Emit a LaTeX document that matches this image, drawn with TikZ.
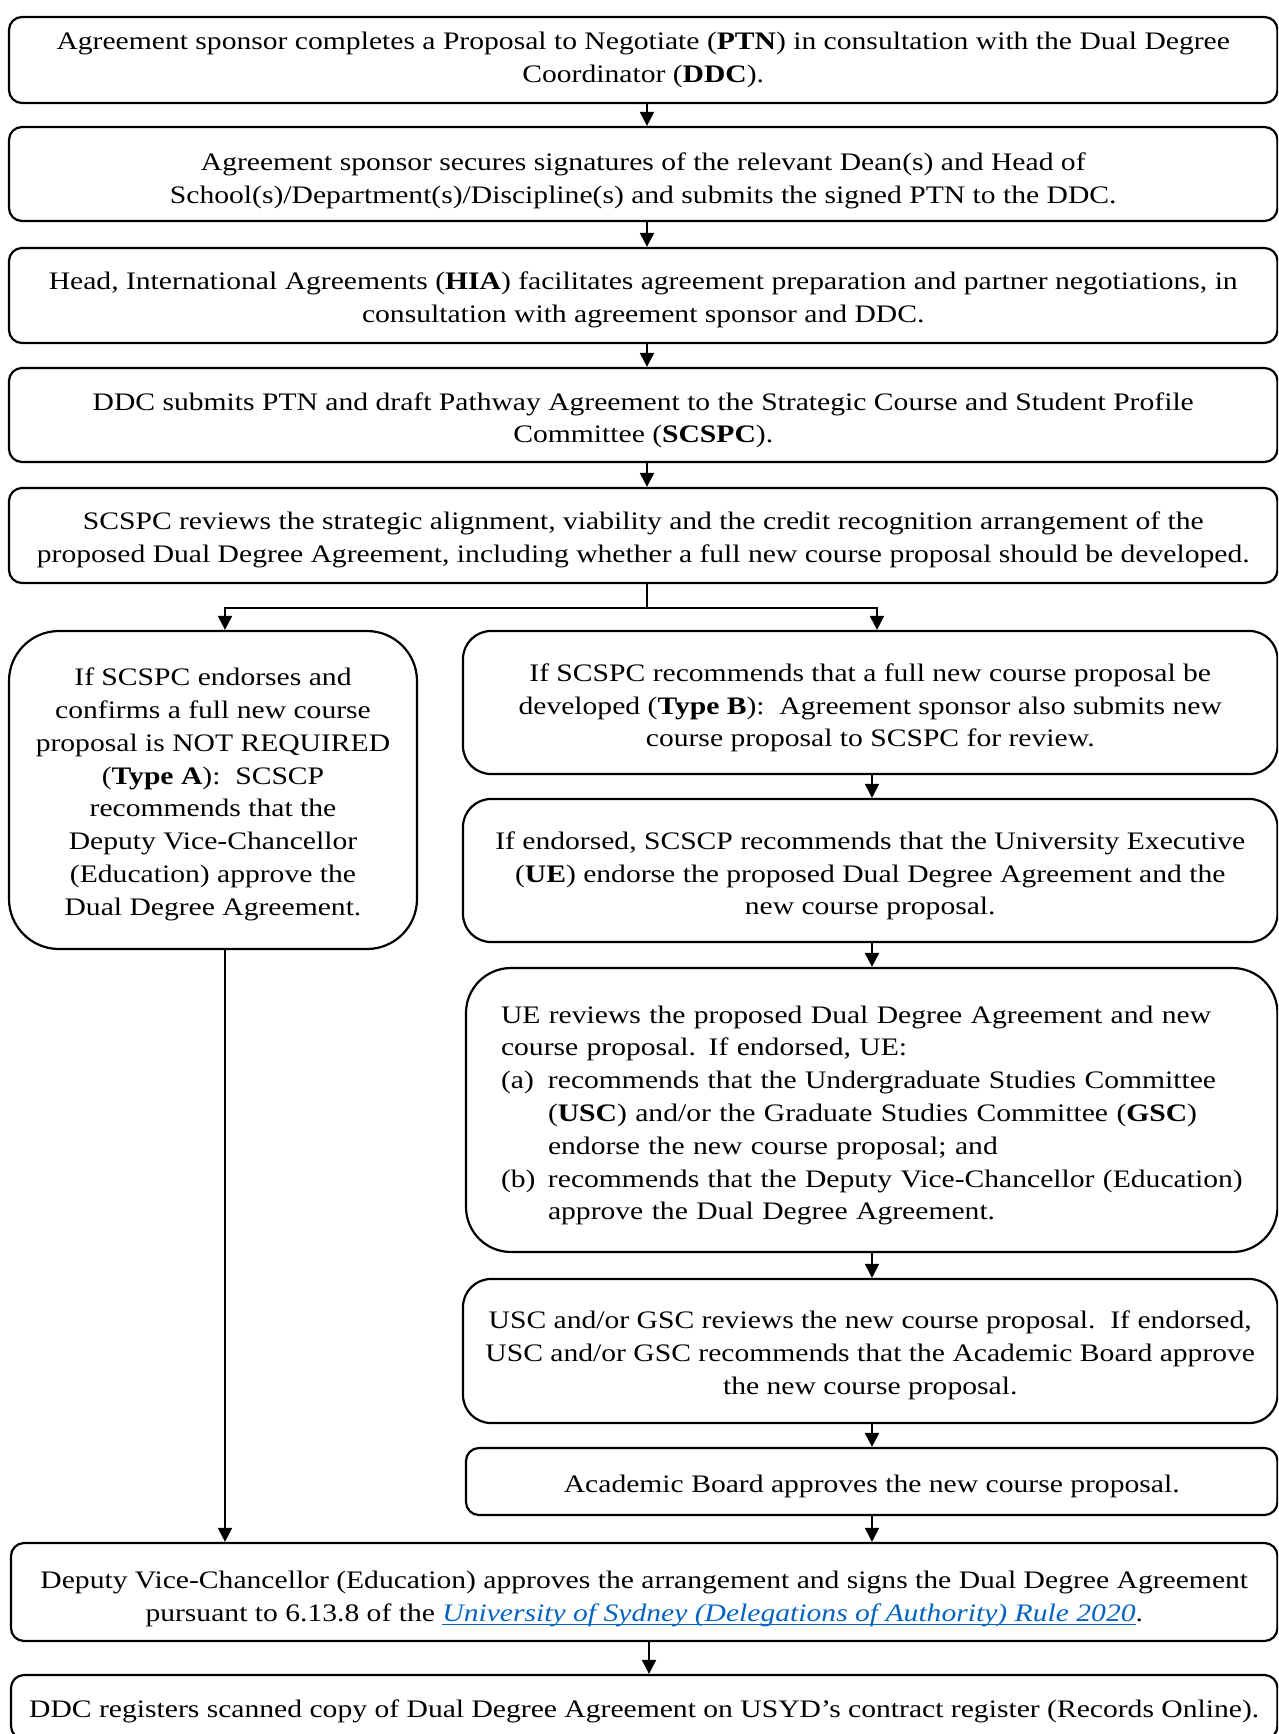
\documentclass[tikz,border=0pt]{standalone}
\usepackage{fontspec}
\setmainfont{Liberation Serif}[FakeStretch=1.175]
\usetikzlibrary{arrows.meta}
\definecolor{linkblue}{RGB}{5,99,193}
% italic blue link text with an underline just below the baseline
\newcommand{\rulelink}[1]{{\color{linkblue}\itshape\setbox0\hbox{#1}\rlap{\rule[-4pt]{\wd0}{1.5pt}}\box0}}
\newcommand{\itemlabel}[1]{\makebox[47pt][l]{#1}}
\newcommand{\itemcont}{\hspace*{47pt}}
% invisible strut at the start of a first line: lowers the text in its box
\newcommand{\lowr}[1]{\rule{0pt}{#1}}

\begin{document}
\begin{tikzpicture}[x=1pt,y=-1pt,
  box/.style={draw, line width=2.2pt, align=center, inner sep=0pt,
    font=\fontsize{25.2}{32.8}\selectfont, rounded corners=13pt},
  arr/.style={line width=2pt, -{Triangle[width=14pt,length=14pt]}}]
\useasboundingbox (0,0) rectangle (1278,1734);
\clip (0,0) rectangle (1278,1734);

% main sequence
\node[box, minimum width=1268.5pt, minimum height=86pt] (b1) at (643.25,60)
  {Agreement sponsor completes a Proposal to Negotiate (\textbf{PTN}) in consultation with the Dual Degree\\
   Coordinator (\textbf{DDC}).};
\node[box, minimum width=1268.5pt, minimum height=94pt] (b2) at (643.25,174)
  {\lowr{31pt}Agreement sponsor secures signatures of the relevant Dean(s) and Head of\\
   School(s)/Department(s)/Discipline(s) and submits the signed PTN to the DDC.};
\node[box, minimum width=1268.5pt, minimum height=95pt] (b3) at (643.25,295.5)
  {\lowr{26.5pt}Head, International Agreements (\textbf{HIA}) facilitates agreement preparation and partner negotiations, in\\
   consultation with agreement sponsor and DDC.};
\node[box, minimum width=1268.5pt, minimum height=94pt] (b4) at (643.25,415)
  {\lowr{28.5pt}DDC submits PTN and draft Pathway Agreement to the Strategic Course and Student Profile\\
   Committee (\textbf{SCSPC}).};
\node[box, minimum width=1268.5pt, minimum height=95pt] (b5) at (643.25,535.5)
  {\lowr{26.5pt}SCSPC reviews the strategic alignment, viability and the credit recognition arrangement of the\\
   proposed Dual Degree Agreement, including whether a full new course proposal should be developed.};

% Type A branch
\node[box, rounded corners=50pt, minimum width=408pt, minimum height=318pt] (la) at (213,790)
  {\lowr{26.5pt}If SCSPC endorses and\\
   confirms a full new course\\
   proposal is NOT REQUIRED\\
   (\textbf{Type A}):\ \ SCSCP\\
   recommends that the\\
   Deputy Vice-Chancellor\\
   (Education) approve the\\
   Dual Degree Agreement.};

% Type B branch
\node[box, rounded corners=28pt, minimum width=814.5pt, minimum height=143pt] (ra1) at (870.25,702.5)
  {\lowr{28.5pt}If SCSPC recommends that a full new course proposal be\\
   developed (\textbf{Type B}):\ \ Agreement sponsor also submits new\\
   course proposal to SCSPC for review.};
\node[box, rounded corners=28pt, minimum width=814.5pt, minimum height=143pt] (ra2) at (870.25,870.5)
  {\lowr{28.5pt}If endorsed, SCSCP recommends that the University Executive\\
   (\textbf{UE}) endorse the proposed Dual Degree Agreement and the\\
   new course proposal.};
\node[box, rounded corners=45pt, minimum width=811.5pt, minimum height=284pt,
      text width=741.5pt, align=left] (ra3) at (871.75,1110)
  {\lowr{28.5pt}\mbox{UE reviews the proposed Dual Degree Agreement and new}\\
   \mbox{course proposal. If endorsed, UE:}\\
   \itemlabel{(a)}\mbox{recommends that the Undergraduate Studies Committee}\\
   \itemcont\mbox{(\textbf{USC}) and/or the Graduate Studies Committee (\textbf{GSC})}\\
   \itemcont\mbox{endorse the new course proposal; and}\\
   \itemlabel{(b)}\mbox{recommends that the Deputy Vice-Chancellor (Education)}\\
   \itemcont\mbox{approve the Dual Degree Agreement.}};
\node[box, rounded corners=28pt, minimum width=814.5pt, minimum height=144pt] (ra4) at (870.25,1351)
  {\lowr{26.5pt}USC and/or GSC reviews the new course proposal.\ \ If endorsed,\\
   USC and/or GSC recommends that the Academic Board approve\\
   the new course proposal.};
\node[box, minimum width=811.5pt, minimum height=67pt] (ra5) at (871.75,1481.5)
  {\lowr{26.5pt}Academic Board approves the new course proposal.};

% approval and registration
\node[box, minimum width=1266.5pt, minimum height=98pt] (d) at (644.25,1592)
  {\lowr{31pt}Deputy Vice-Chancellor (Education) approves the arrangement and signs the Dual Degree Agreement\\
   pursuant to 6.13.8 of the \rulelink{University of Sydney (Delegations of Authority) Rule 2020}.};
\node[box, minimum width=1266.5pt, minimum height=64pt] (e) at (644.25,1707)
  {\lowr{26.5pt}DDC registers scanned copy of Dual Degree Agreement on USYD’s contract register (Records Online).};

% connectors
\draw[arr] ([xshift=3.75pt]b1.south) -- ([xshift=3.75pt]b2.north);
\draw[arr] ([xshift=3.75pt]b2.south) -- ([xshift=3.75pt]b3.north);
\draw[arr] ([xshift=3.75pt]b3.south) -- ([xshift=3.75pt]b4.north);
\draw[arr] ([xshift=3.75pt]b4.south) -- ([xshift=3.75pt]b5.north);
\draw[line width=2pt] ([xshift=3.75pt]b5.south) -- ++(0,24) coordinate (split);
\draw[arr] (split) -| ([xshift=12pt]la.north);
\draw[arr] (split) -| ([xshift=6.75pt]ra1.north);
\draw[arr] ([xshift=1.75pt]ra1.south) -- ([xshift=1.75pt]ra2.north);
\draw[arr] ([xshift=1.75pt]ra2.south) -- ([xshift=0.25pt]ra3.north);
\draw[arr] ([xshift=0.25pt]ra3.south) -- ([xshift=1.75pt]ra4.north);
\draw[arr] ([xshift=1.75pt]ra4.south) -- ([xshift=0.25pt]ra5.north);
\draw[arr] ([xshift=0.25pt]ra5.south) -- ([xshift=0.25pt]ra5.south |- d.north);
\draw[arr] ([xshift=12pt]la.south) -- ([xshift=12pt]la.south |- d.north);
\draw[arr] ([xshift=4.75pt]d.south) -- ([xshift=4.75pt]e.north);
\end{tikzpicture}
\end{document}
